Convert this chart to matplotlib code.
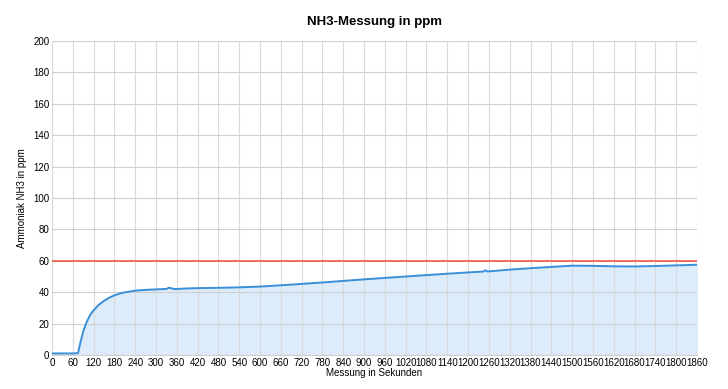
import matplotlib.pyplot as plt

# Messpunkte
sekunden = [0, 20, 40, 60, 75, 82, 90, 100, 110, 120, 135, 150, 165, 180, 200, 220, 240,
            270, 300, 330, 338, 345, 355, 390, 420, 480, 540, 600, 660, 720, 780, 840,
            900, 960, 1020, 1080, 1140, 1200, 1245, 1250, 1256, 1320, 1380, 1440, 1500,
            1560, 1620, 1680, 1740, 1800, 1860]
nh3_ppm = [1.0, 1.0, 1.0, 1.0, 1.2, 8, 15, 21, 25.5, 28.5, 32, 34.5, 36.5, 38, 39.5, 40.3, 41,
           41.5, 41.8, 42.1, 42.9, 42.4, 42.0, 42.4, 42.6, 42.8, 43.1, 43.6, 44.4, 45.3, 46.2, 47.2,
           48.2, 49.1, 50.0, 50.9, 51.8, 52.6, 53.2, 54.0, 53.2, 54.4, 55.3, 56.1, 56.9,
           56.8, 56.5, 56.4, 56.7, 57.1, 57.5]
grenzwert = 60

x_ticks = list(range(0, 1861, 60))
y_ticks = list(range(0, 201, 20))

plt.rcParams['font.family'] = ['Liberation Sans', 'DejaVu Sans']

fig = plt.figure(figsize=(7.28, 3.89), dpi=100)
ax = fig.add_axes([0.0714, 0.0874, 0.886, 0.807])

ax.fill_between(sekunden, nh3_ppm, 0, color="#dcecfb", zorder=1)
ax.plot(sekunden, nh3_ppm, color="#3a8fd6", lw=1.4, zorder=3)
ax.axhline(grenzwert, color="#ee5a45", lw=1.2, zorder=4)

ax.set_xlim(0, 1860)
ax.set_ylim(0, 200)
ax.set_xticks(x_ticks)
ax.set_yticks(y_ticks)
ax.tick_params(axis="both", labelsize=7, length=0, pad=2)
ax.grid(True, axis="y", color="#cfcfcf", lw=0.8, zorder=2)
ax.grid(True, axis="x", color="#dadada", lw=0.8, zorder=2)
ax.set_axisbelow(False)
for s in ax.spines.values():
    s.set_visible(False)
ax.spines["left"].set_visible(True)
ax.spines["left"].set_color("#cfcfcf")
ax.spines["bottom"].set_visible(True)
ax.spines["bottom"].set_color("#cfcfcf")

ax.set_xlabel("Messung in Sekunden", fontsize=7, labelpad=0)
ax.set_ylabel("Ammoniak NH3 in ppm", fontsize=7, labelpad=4)
fig.suptitle("NH3-Messung in ppm", fontsize=9.5, fontweight="bold", y=0.96,
             x=0.515, family=["Liberation Sans Narrow", "Liberation Sans", "DejaVu Sans"])

fig.savefig("out.png", dpi=100)
